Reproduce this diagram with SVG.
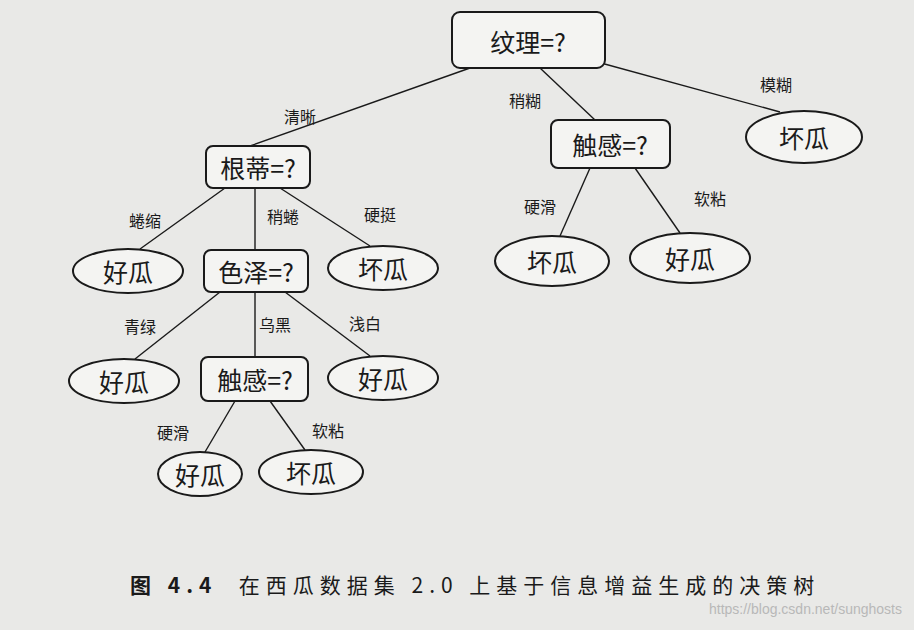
<svg xmlns="http://www.w3.org/2000/svg" width="914" height="630" viewBox="0 0 914 630">
<style>
.n rect,.n ellipse{fill:#f4f4f2;stroke:#1a1a1a;stroke-width:2}
.t{font-family:"Noto Sans CJK SC","Liberation Sans",sans-serif;fill:#1a1a1a;text-anchor:middle;dominant-baseline:central}
.big{font-size:25px}
.lab{font-size:16px}
#edges line{stroke:#1a1a1a;stroke-width:1.4}
</style>
<rect width="914" height="630" fill="#e9e9e7"/>
<g id="edges">
<line x1="470" y1="68" x2="250" y2="146"/>
<line x1="540" y1="68" x2="595" y2="120"/>
<line x1="590" y1="60" x2="780" y2="112"/>
<line x1="225" y1="188" x2="140" y2="249"/>
<line x1="255" y1="188" x2="255" y2="250"/>
<line x1="280" y1="188" x2="370" y2="246"/>
<line x1="590" y1="168" x2="560" y2="236"/>
<line x1="635" y1="168" x2="680" y2="233"/>
<line x1="220" y1="292" x2="135" y2="359"/>
<line x1="255" y1="292" x2="255" y2="357"/>
<line x1="285" y1="292" x2="370" y2="356"/>
<line x1="235" y1="401" x2="205" y2="452"/>
<line x1="270" y1="401" x2="305" y2="450"/>
</g>
<g class="t lab">
<text x="300" y="116">清晰</text><text x="525" y="100">稍糊</text><text x="776" y="84">模糊</text>
<text x="145" y="220">蜷缩</text><text x="283" y="216">稍蜷</text><text x="380" y="214">硬挺</text>
<text x="540" y="206">硬滑</text><text x="710" y="198">软粘</text>
<text x="140" y="326">青绿</text><text x="275" y="324">乌黑</text><text x="365" y="323">浅白</text>
<text x="173" y="432">硬滑</text><text x="328" y="430">软粘</text>
</g>
<g id="n1" class="n"><rect x="452" y="12" width="153" height="56" rx="8"/><text class="t big" x="528" y="41">纹理=?</text></g>
<g id="n2" class="n"><rect x="551" y="120" width="119" height="48" rx="7"/><text class="t big" x="610" y="144">触感=?</text></g>
<g id="n3" class="n"><ellipse cx="804" cy="137" rx="58" ry="26"/><text class="t big" x="804" y="137">坏瓜</text></g>
<g id="n4" class="n"><rect x="206" y="146" width="104" height="42" rx="7"/><text class="t big" x="258" y="167">根蒂=?</text></g>
<g id="n5" class="n"><ellipse cx="128" cy="271" rx="55" ry="22"/><text class="t big" x="128" y="271">好瓜</text></g>
<g id="n6" class="n"><rect x="204" y="250" width="104" height="42" rx="7"/><text class="t big" x="256" y="271">色泽=?</text></g>
<g id="n7" class="n"><ellipse cx="383" cy="268" rx="55" ry="22"/><text class="t big" x="383" y="268">坏瓜</text></g>
<g id="n8" class="n"><ellipse cx="552" cy="261" rx="57" ry="25"/><text class="t big" x="552" y="261">坏瓜</text></g>
<g id="n9" class="n"><ellipse cx="690" cy="258" rx="60" ry="25"/><text class="t big" x="690" y="258">好瓜</text></g>
<g id="n10" class="n"><ellipse cx="124" cy="381" rx="55" ry="22"/><text class="t big" x="124" y="381">好瓜</text></g>
<g id="n11" class="n"><rect x="201" y="357" width="107" height="44" rx="7"/><text class="t big" x="255" y="379">触感=?</text></g>
<g id="n12" class="n"><ellipse cx="383" cy="378" rx="55" ry="22"/><text class="t big" x="383" y="378">好瓜</text></g>
<g id="n13" class="n"><ellipse cx="200" cy="474" rx="42" ry="22"/><text class="t big" x="200" y="474">好瓜</text></g>
<g id="n14" class="n"><ellipse cx="311" cy="472" rx="52" ry="22"/><text class="t big" x="311" y="472">坏瓜</text></g>
<text class="t" x="130" y="584" font-size="21" letter-spacing="6" style="text-anchor:start" xml:space="preserve"><tspan font-weight="bold">图 4.4</tspan>  在西瓜数据集 2.0 上基于信息增益生成的决策树</text>
<text x="902" y="614" font-family="Liberation Sans,sans-serif" font-size="14" fill="#b8b8b8" text-anchor="end">https://blog.csdn.net/sunghosts</text>
</svg>
